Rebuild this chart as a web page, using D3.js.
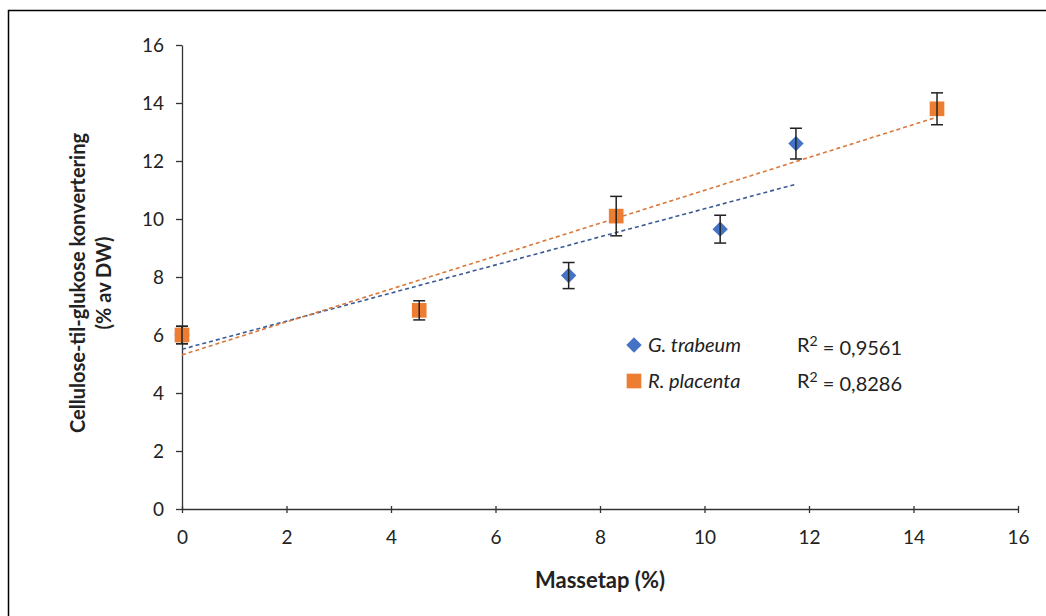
<!DOCTYPE html>
<html>
<head lang="en">
    <meta charset="UTF-8">
    <title>Massetap vs konvertering</title>
    <script type="text/javascript" src="https://cdn.jsdelivr.net/npm/d3@7"></script>
    <style>
        body { margin: 0; background: #fff; }
        text { font-family: Lato, "Open Sans", sans-serif; fill: #222; }
    </style>
</head>
<body>
<div class="holder"></div>

<script>
    // G. trabeum (blue diamonds)
    var gtX = [0, 7.4, 10.3, 11.75];
    var gtY = [6.0, 8.05, 9.65, 12.6];
    var gtErr = [0.3, 0.45, 0.48, 0.53];
    // R. placenta (orange squares)
    var rpX = [0, 4.54, 8.31, 14.45];
    var rpY = [6.0, 6.85, 10.1, 13.8];
    var rpErr = [0.3, 0.33, 0.68, 0.55];

    var xTicks = [0, 2, 4, 6, 8, 10, 12, 14, 16];
    var yTicks = [0, 2, 4, 6, 8, 10, 12, 14, 16];
    var seriesNames = ["G. trabeum", "R. placenta"];
    var r2Labels = ["0,9561", "0,8286"];
    var colors = ["#4472C4", "#ED7D31"];

    var W = 1046, H = 616;
    var svg = d3.select(".holder").append("svg")
            .attr("width", W).attr("height", H);

    // outer frame
    svg.append("rect")
            .attr("x", 8.5).attr("y", 10.5)
            .attr("width", W).attr("height", H)
            .attr("fill", "none").attr("stroke", "#000").attr("stroke-width", 1.5);

    var x = d3.scaleLinear().domain([0, 16]).range([182, 1018]);
    var y = d3.scaleLinear().domain([0, 16]).range([509, 45]);

    // axes
    var xAxis = svg.append("g")
            .attr("transform", "translate(0," + y(0) + ")")
            .call(d3.axisBottom(x).tickValues(xTicks).tickSize(6).tickSizeOuter(0).tickPadding(8));
    var yAxis = svg.append("g")
            .attr("transform", "translate(" + x(0) + ",0)")
            .call(d3.axisLeft(y).tickValues(yTicks).tickSize(6).tickSizeOuter(0).tickPadding(12));

    // ticks straddle the axis like excel
    xAxis.selectAll(".tick line").attr("y1", -3).attr("y2", 4);
    yAxis.selectAll(".tick line").attr("x1", -6).attr("x2", 0);
    [xAxis, yAxis].forEach(function (a) {
        a.select(".domain").attr("stroke", "#333").attr("stroke-width", 1.3);
        a.selectAll(".tick line").attr("stroke", "#333").attr("stroke-width", 1.3);
        a.selectAll(".tick text").attr("font-size", 19).attr("fill", "#222")
                .style("font-family", "Lato, 'Open Sans', sans-serif");
    });
    xAxis.selectAll(".tick text").attr("dy", "1.1em");

    // titles
    svg.append("text")
            .attr("x", 600).attr("y", 588)
            .attr("text-anchor", "middle")
            .attr("font-size", 22).attr("font-weight", "bold")
            .text("Massetap (%)");

    var yt = svg.append("text")
            .attr("transform", "translate(78,283) rotate(-90)")
            .attr("text-anchor", "middle")
            .attr("font-size", 20).attr("font-weight", "bold");
    yt.append("tspan").attr("x", 0).attr("dy", "0.35em").text("Cellulose-til-glukose konvertering");
    yt.append("tspan").attr("x", 0).attr("dy", "1.3em").text("(% av DW)");

    // linear regression for trendlines
    function fit(xs, ys) {
        var mx = d3.mean(xs), my = d3.mean(ys);
        var sxx = d3.sum(xs, function (v) { return (v - mx) * (v - mx); });
        var sxy = d3.sum(xs, function (v, i) { return (v - mx) * (ys[i] - my); });
        var b = sxy / sxx;
        return { b: b, a: my - b * mx };
    }

    // diamond = square turned 45 degrees (excel style)
    var series = [
        { xs: gtX, ys: gtY, err: gtErr, shape: d3.symbolSquare, size: 118, rot: 45 },
        { xs: rpX, ys: rpY, err: rpErr, shape: d3.symbolSquare, size: 215, rot: 0 }
    ];

    // trendlines
    series.forEach(function (s, k) {
        var f = fit(s.xs, s.ys);
        var x0 = d3.min(s.xs), x1 = d3.max(s.xs);
        svg.append("line")
                .attr("x1", x(x0)).attr("y1", y(f.a + f.b * x0))
                .attr("x2", x(x1)).attr("y2", y(f.a + f.b * x1))
                .attr("stroke", k === 0 ? "#3b5a94" : "#d9783a")
                .attr("stroke-width", 1.6)
                .attr("stroke-dasharray", "4,3");
    });

    // markers + error bars (G. trabeum drawn first, orange on top)
    series.forEach(function (s, k) {
        var g = svg.append("g");
        var pts = s.xs.map(function (v, i) { return { x: v, y: s.ys[i], e: s.err[i] }; });

        g.selectAll("path.m")
                .data(pts)
                .enter()
                .append("path")
                .attr("class", "m")
                .attr("transform", function (d) {
                    return "translate(" + x(d.x) + "," + y(d.y) + ") rotate(" + s.rot + ")";
                })
                .attr("d", d3.symbol().type(s.shape).size(s.size))
                .attr("fill", colors[k]);

        var eb = g.selectAll("g.eb")
                .data(pts)
                .enter()
                .append("g")
                .attr("class", "eb")
                .attr("stroke", "#222")
                .attr("stroke-width", 1.5);
        eb.append("line")
                .attr("x1", function (d) { return x(d.x); })
                .attr("x2", function (d) { return x(d.x); })
                .attr("y1", function (d) { return y(d.y + d.e); })
                .attr("y2", function (d) { return y(d.y - d.e); });
        eb.append("line")
                .attr("x1", function (d) { return x(d.x) - 6; })
                .attr("x2", function (d) { return x(d.x) + 6; })
                .attr("y1", function (d) { return y(d.y + d.e); })
                .attr("y2", function (d) { return y(d.y + d.e); });
        eb.append("line")
                .attr("x1", function (d) { return x(d.x) - 6; })
                .attr("x2", function (d) { return x(d.x) + 6; })
                .attr("y1", function (d) { return y(d.y - d.e); })
                .attr("y2", function (d) { return y(d.y - d.e); });
    });

    // legend
    var legend = svg.append("g");
    seriesNames.forEach(function (name, k) {
        var ly = 345 + k * 36;
        legend.append("path")
                .attr("transform", "translate(634," + ly + ") rotate(" + series[k].rot + ")")
                .attr("d", d3.symbol().type(series[k].shape).size(series[k].size))
                .attr("fill", colors[k]);
        legend.append("text")
                .attr("x", 648).attr("y", ly)
                .attr("dy", "0.35em")
                .attr("font-size", 20).attr("font-style", "italic")
                .text(name);
        var t = legend.append("text")
                .attr("x", 797).attr("y", ly)
                .attr("dy", "0.35em")
                .attr("font-size", 20);
        t.append("tspan").text("R");
        t.append("tspan").attr("font-size", 14).attr("dy", "-0.45em").text("2");
        t.append("tspan").attr("dy", "0.45em").text(" = " + r2Labels[k]);
    });
</script>
</body>
</html>
